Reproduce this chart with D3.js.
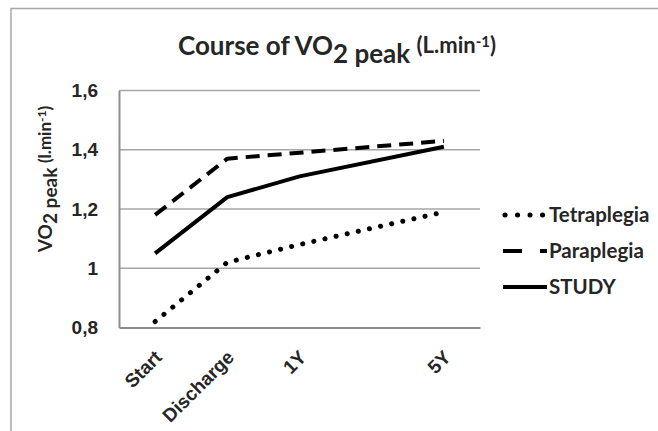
<!DOCTYPE html>
<html>
<head>
<meta charset="utf-8">
<script src="https://cdn.jsdelivr.net/npm/d3@7"></script>
<style>
  body { margin: 0; background: #fff; }
  svg { font-family: Lato, "Open Sans", sans-serif; }
</style>
</head>
<body>
<svg id="chart"></svg>
<script>
// x categories (the blank slot keeps 5Y further out, as in the original)
var categories = ["Start", "Discharge", "1Y", "", "5Y"];
var timepoints = ["Start", "Discharge", "1Y", "5Y"];

// VO2 peak values per group
var tetraplegia = [0.82, 1.02, 1.08, 1.19];
var paraplegia = [1.18, 1.37, 1.39, 1.43];
var study = [1.05, 1.24, 1.31, 1.41];

var yTicks = [0.8, 1.0, 1.2, 1.4, 1.6];

var seriesNames = ["Tetraplegia", "Paraplegia", "STUDY"];

function main() {
    const W = 658, H = 431;
    const margin = { top: 90.5, right: 178, bottom: 103.5, left: 119 };
    const width = W - margin.left - margin.right;
    const height = H - margin.top - margin.bottom;
    const textColor = "#262626";

    const svg = d3.select("#chart")
      .attr("width", W)
      .attr("height", H);

    // outer chart border
    svg.append("rect")
      .attr("x", 11).attr("y", 8.5)
      .attr("width", W + 20).attr("height", H + 20)
      .attr("fill", "none")
      .attr("stroke", "#a6a6a6")
      .attr("stroke-width", 1.5);

    const g = svg.append("g")
      .attr("transform", `translate(${margin.left}, ${margin.top})`);

    const xScale = d3.scaleBand()
      .domain(categories)
      .range([0, width])
      .padding(0);

    const yScale = d3.scaleLinear()
      .domain([0.8, 1.6])
      .range([height, 0]);

    const locale = d3.formatLocale({ decimal: ",", thousands: ".", grouping: [3], currency: ["", ""] });
    const fmt = v => Math.abs(v - Math.round(v)) < 1e-9 ? String(Math.round(v)) : locale.format(".1f")(v);

    // gridlines
    g.append("g")
      .selectAll("line")
      .data(yTicks.slice(1))
      .enter()
      .append("line")
      .attr("x1", 0).attr("x2", width)
      .attr("y1", d => yScale(d)).attr("y2", d => yScale(d))
      .attr("stroke", "#a6a6a6")
      .attr("stroke-width", 1.5);

    // y axis
    const yAxis = d3.axisLeft(yScale).tickValues(yTicks).tickFormat(fmt).tickSize(0).tickPadding(21);
    const ya = g.append("g").call(yAxis);
    ya.select(".domain").attr("stroke", "#8c8c8c").attr("stroke-width", 2);
    ya.selectAll("text")
      .attr("fill", textColor)
      .attr("font-size", 19)
      .attr("font-weight", "bold");

    // x axis
    const xAxis = d3.axisBottom(xScale).tickSize(0).tickFormat(d => d);
    const xa = g.append("g")
      .attr("transform", `translate(0, ${height})`)
      .call(xAxis);
    xa.select(".domain").attr("stroke", "#8c8c8c").attr("stroke-width", 2);
    xa.selectAll("text")
      .attr("fill", textColor)
      .attr("font-size", 19)
      .attr("font-weight", "bold")
      .attr("text-anchor", "end")
      .attr("dy", null)
      .attr("y", 0)
      .attr("transform", "translate(8, 31) rotate(-45)");

    // lines
    const line = d3.line()
      .x((d, i) => xScale(timepoints[i]) + xScale.bandwidth() / 2)
      .y(d => yScale(d));

    const styles = [
      { data: tetraplegia, dash: "0.1,11.3", width: 5, cap: "round" },
      { data: paraplegia, dash: "14,8", width: 4, cap: "butt" },
      { data: study, dash: null, width: 4, cap: "butt" }
    ];

    g.selectAll(".series")
      .data(styles)
      .enter()
      .append("path")
      .attr("class", "series")
      .attr("d", d => line(d.data))
      .attr("fill", "none")
      .attr("stroke", "#000")
      .attr("stroke-width", d => d.width)
      .attr("stroke-linecap", d => d.cap)
      .attr("stroke-linejoin", "round")
      .attr("stroke-dasharray", d => d.dash);

    // legend
    const legend = svg.append("g")
      .selectAll("g")
      .data(seriesNames)
      .enter()
      .append("g")
      .attr("transform", (d, i) => `translate(503, ${215 + i * 36})`);

    legend.append("line")
      .attr("x1", (d, i) => i === 0 ? 2 : 0)
      .attr("x2", 44)
      .attr("y1", 0).attr("y2", 0)
      .attr("stroke", "#000")
      .attr("stroke-width", (d, i) => styles[i].width)
      .attr("stroke-linecap", (d, i) => styles[i].cap)
      .attr("stroke-dasharray", (d, i) => i === 0 ? "0.1,12.4" : (i === 1 ? "19,18" : null));

    legend.append("text")
      .attr("x", 46)
      .attr("y", 0)
      .attr("dy", "0.36em")
      .attr("fill", textColor)
      .attr("font-size", 20.5)
      .attr("font-weight", "bold")
      .text(d => d);

    // title
    const title = svg.append("text")
      .attr("x", 178)
      .attr("y", 55)
      .attr("fill", textColor)
      .attr("font-size", 26)
      .attr("font-weight", "bold");
    title.append("tspan").text("Course of VO");
    title.append("tspan").attr("dy", 8).text("2 peak ");
    title.append("tspan").attr("dy", -10).attr("font-size", 22).text("(L.min");
    title.append("tspan").attr("dy", -6).attr("font-size", 15).text("-1");
    title.append("tspan").attr("dy", 6).attr("font-size", 22).text(")");

    // y axis title
    const ytitle = svg.append("text")
      .attr("transform", "translate(52, 179) rotate(-90)")
      .attr("text-anchor", "middle")
      .attr("fill", textColor)
      .attr("font-size", 19)
      .attr("font-weight", "bold");
    ytitle.append("tspan").text("VO");
    ytitle.append("tspan").attr("dy", 5).text("2 peak ");
    ytitle.append("tspan").attr("dy", -6).attr("font-size", 17).text("(l.min");
    ytitle.append("tspan").attr("dy", -5).attr("font-size", 12).text("-1");
    ytitle.append("tspan").attr("dy", 5).attr("font-size", 17).text(")");
}
main();
</script>
</body>
</html>
